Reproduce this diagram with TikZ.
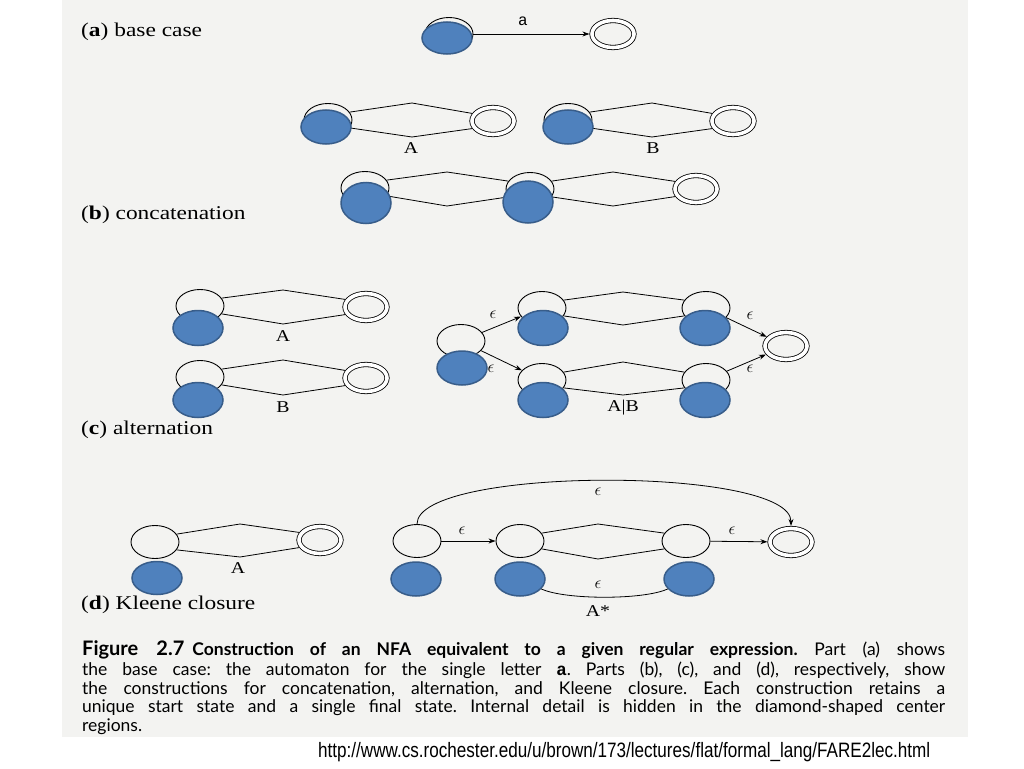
\documentclass[tikz,border=0pt]{standalone}
\usepackage{fontspec}
\setmainfont{Liberation Serif}[FakeStretch=1.2]
\newfontfamily\capfont{Lato}
\newfontfamily\linkfont{Liberation Sans}[FakeStretch=0.82]
\newfontfamily\letterfont{Liberation Mono}
\usepackage{graphicx}
\usetikzlibrary{arrows.meta}
\usetikzlibrary{shapes.geometric}

\definecolor{scangray}{RGB}{243,243,241}
\definecolor{coverblue}{RGB}{79,129,189}
\definecolor{coveredge}{RGB}{56,93,138}

\frenchspacing

\begin{document}
\begin{tikzpicture}[x=1pt, y=-1pt,
    state/.style={ellipse, draw, line width=0.9pt, inner sep=0pt, minimum width=48pt, minimum height=33pt},
    accept/.style={ellipse, draw, line width=0.8pt, double, double distance=3.6pt, inner sep=0pt, minimum width=42pt, minimum height=27pt, outer sep=2.6pt},
    cover/.style={ellipse, fill=coverblue, draw=coveredge, line width=1.5pt, inner sep=0pt, minimum width=50pt},
    diam/.style={line width=0.8pt},
    trans/.style={line width=0.8pt, -{Stealth[length=7pt, width=5pt]}},
    parttitle/.style={anchor=west, inner sep=0pt, font=\fontsize{19.5}{21}\selectfont},
    tag/.style={inner sep=0pt, font=\fontsize{16.5}{18}\selectfont},
    eps/.style={inner sep=0pt, font=\fontsize{17}{17}\selectfont},
    capline/.style={anchor=west, inner sep=0pt, font=\capfont\fontsize{17.5}{19}\selectfont}]
    \useasboundingbox (0,0) rectangle (1024,768);
    \fill[scangray] (62,0) rectangle (968,737);

    \node[parttitle] (ta) at (81,32) {(\textbf{a}) base case};
    \node[parttitle] (tb) at (81,215) {(\textbf{b}) concatenation};
    \node[parttitle] (tc) at (81,430) {(\textbf{c}) alternation};
    \node[parttitle] (td) at (81,605) {(\textbf{d}) Kleene closure};

    \node[state] (a0) at (449,34) {};
    \node[accept] (a1) at (613,34) {};
    \draw[trans] (a0) -- (a1);
    \node[inner sep=0pt, font=\letterfont\fontsize{16}{16}\selectfont] (la) at (523,21) {a};

    \node[state] (b1s) at (328,120) {};
    \node[accept] (b1f) at (493,121) {};
    \coordinate (b1t) at (412,103);
    \coordinate (b1b) at (412,137);
    \draw[diam] (b1s.20) -- (b1t) -- (b1f.160);
    \draw[diam] (b1s.-20) -- (b1b) -- (b1f.200);
    \node[tag] (lA1) at (411,148) {A};

    \node[state] (b2s) at (568,120) {};
    \node[accept] (b2f) at (733,121) {};
    \coordinate (b2t) at (652,103);
    \coordinate (b2b) at (652,137);
    \draw[diam] (b2s.20) -- (b2t) -- (b2f.160);
    \draw[diam] (b2s.-20) -- (b2b) -- (b2f.200);
    \node[tag] (lB1) at (653,148) {B};

    \node[state] (b3s) at (365,188) {};
    \node[state] (b3m) at (530,189) {};
    \node[accept] (b3f) at (696,189) {};
    \coordinate (b3t1) at (447,172);
    \coordinate (b3b1) at (447,206);
    \coordinate (b3t2) at (613,172);
    \coordinate (b3b2) at (613,206);
    \draw[diam] (b3s.20) -- (b3t1) -- (b3m.160);
    \draw[diam] (b3s.-20) -- (b3b1) -- (b3m.200);
    \draw[diam] (b3m.20) -- (b3t2) -- (b3f.160);
    \draw[diam] (b3m.-20) -- (b3b2) -- (b3f.200);

    \node[state] (c1s) at (200,306) {};
    \node[accept] (c1f) at (366,307) {};
    \coordinate (c1t) at (283,290);
    \coordinate (c1b) at (283,324);
    \draw[diam] (c1s.20) -- (c1t) -- (c1f.160);
    \draw[diam] (c1s.-20) -- (c1b) -- (c1f.200);
    \node[tag] (lA2) at (283,336) {A};

    \node[state] (c2s) at (200,377) {};
    \node[accept] (c2f) at (366,378) {};
    \coordinate (c2t) at (283,360);
    \coordinate (c2b) at (283,395);
    \draw[diam] (c2s.20) -- (c2t) -- (c2f.160);
    \draw[diam] (c2s.-20) -- (c2b) -- (c2f.200);
    \node[tag] (lB2) at (283,407) {B};

    \node[state] (c0) at (461,341) {};
    \node[state] (cu1) at (542,308) {};
    \node[state] (cu2) at (706,308) {};
    \node[state] (cl1) at (542,380) {};
    \node[state] (cl2) at (706,380) {};
    \node[accept] (cf) at (786,346) {};
    \coordinate (cut) at (623,292);
    \coordinate (cub) at (623,325);
    \coordinate (clt) at (623,362);
    \coordinate (clb) at (623,395);
    \draw[diam] (cu1.20) -- (cut) -- (cu2.160);
    \draw[diam] (cu1.-20) -- (cub) -- (cu2.200);
    \draw[diam] (cl1.20) -- (clt) -- (cl2.160);
    \draw[diam] (cl1.-20) -- (clb) -- (cl2.200);
    \draw[trans] (c0) -- (cu1);
    \draw[trans] (c0) -- (cl1);
    \draw[trans] (cu2) -- (cf);
    \draw[trans] (cl2) -- (cf);
    \node[eps] (e1) at (493,315) {$\epsilon$};
    \node[eps] (e2) at (491,369) {$\epsilon$};
    \node[eps] (e3) at (750,316) {$\epsilon$};
    \node[eps] (e4) at (750,369) {$\epsilon$};
    \node[tag] (lAB) at (623,408) {A|B};

    \node[state] (d1s) at (155,542) {};
    \node[accept] (d1f) at (320,540) {};
    \coordinate (d1t) at (240,524);
    \coordinate (d1b) at (240,557);
    \draw[diam] (d1s.20) -- (d1t) -- (d1f.160);
    \draw[diam] (d1s.-20) -- (d1b) -- (d1f.200);
    \node[tag] (lA3) at (238,568) {A};

    \node[state] (d0) at (417,541) {};
    \node[state] (d2m) at (520,541) {};
    \node[state] (d2r) at (686,541) {};
    \node[accept] (df) at (791,542) {};
    \coordinate (dt) at (598,524);
    \coordinate (db) at (598,559);
    \draw[diam] (d2m.20) -- (dt) -- (d2r.160);
    \draw[diam] (d2m.-20) -- (db) -- (d2r.200);
    \draw[trans] (d0) -- (d2m);
    \draw[trans] (d2r) -- (df);
    \draw[trans] (d0.north) .. controls (417,466) and (791,466) .. (df.north);
    \node[eps] (e5) at (462,531) {$\epsilon$};
    \node[eps] (e6) at (732,531) {$\epsilon$};
    \node[eps] (e7) at (598,492) {$\epsilon$};
    \node[eps] (e8) at (598,585) {$\epsilon$};
    \node[tag] (lAs) at (598,611) {A*};

    \node[cover, minimum height=32pt] (a0blue) at (447,38) {};
    \node[cover, minimum height=34pt] (b1blue) at (326,127) {};
    \node[cover, minimum height=34pt] (b2blue) at (568,127) {};
    \node[cover, minimum height=41pt] (b3blue1) at (366,203) {};
    \node[cover, minimum height=42pt] (b3blue2) at (528,202) {};
    \node[cover, minimum height=35pt] (c1blue) at (198,328) {};
    \node[cover, minimum height=35pt] (c2blue) at (198,400) {};
    \node[cover, minimum height=34pt] (c0blue) at (462,368) {};
    \node[cover, minimum height=35pt] (cu1blue) at (543,328) {};
    \node[cover, minimum height=35pt] (cu2blue) at (705,328) {};
    \node[cover, minimum height=35pt] (cl1blue) at (543,400) {};
    \node[cover, minimum height=35pt] (cl2blue) at (705,400) {};
    \node[cover, minimum height=33pt] (d1blue) at (157,578) {};
    \node[cover, minimum height=34pt] (d0blue) at (416,579) {};
    \node[cover, minimum height=34pt] (d2mblue) at (520,579) {};
    \node[cover, minimum height=34pt] (d2rblue) at (689,579) {};
    \draw[diam] (d2mblue.-25) .. controls (565,600) and (644,600) .. (d2rblue.-155);

    \node[capline] (cap1) at (82,650) {\makebox[863pt][s]{{\bfseries\fontsize{20}{21}\selectfont Figure 2.7}\hspace{8pt}\textbf{Construction of an NFA equivalent to a given regular expression.} Part (a) shows}};
    \node[capline] (cap2) at (82,670) {\makebox[863pt][s]{the base case: the automaton for the single letter {\letterfont\bfseries a}. Parts (b), (c), and (d), respectively, show}};
    \node[capline] (cap3) at (82,689) {\makebox[863pt][s]{the constructions for concatenation, alternation, and Kleene closure. Each construction retains a}};
    \node[capline] (cap4) at (82,708) {\makebox[863pt][s]{unique start state and a single final state. Internal detail is hidden in the diamond-shaped center}};
    \node[capline] (cap5) at (82,727) {regions.};

    \node[anchor=west, inner sep=0pt] (url) at (318,752) {\resizebox{612pt}{!}{\linkfont\fontsize{15}{17}\selectfont http://www.cs.rochester.edu/u/brown/173/lectures/flat/formal\_lang/FARE2lec.html}};
\end{tikzpicture}
\end{document}
